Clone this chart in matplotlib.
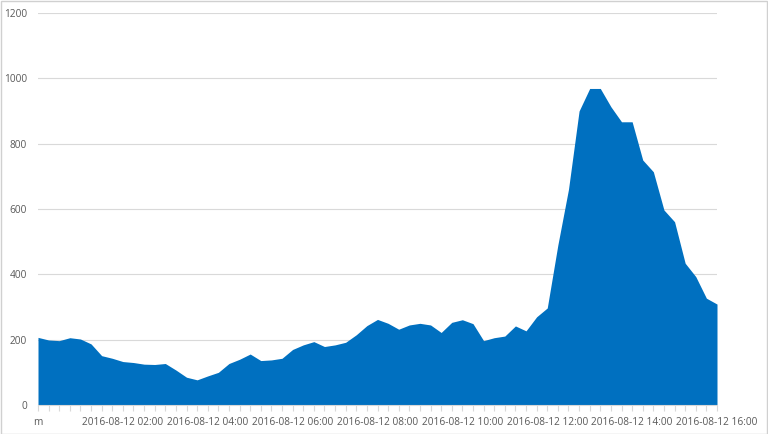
import matplotlib
matplotlib.use("Agg")
import matplotlib.pyplot as plt
import numpy as np
from matplotlib.patches import Rectangle

# 15-minute samples from 2016-08-12 00:00 to 16:00
hours = [i * 0.25 for i in range(65)]
values = [207, 199, 197, 206, 202, 187, 151, 143, 133, 130, 125, 124, 127, 107, 85, 77,
          89, 100, 127, 140, 156, 136, 138, 143, 170, 184, 194, 179, 184, 192, 215, 243,
          262, 250, 232, 245, 250, 245, 222, 253, 261, 249, 197, 206, 211, 242, 227, 270,
          297, 490, 660, 900, 969, 969, 913, 867, 867, 750, 714, 597, 561, 434, 393, 327,
          309]
label_hours = [0, 2, 4, 6, 8, 10, 12, 14, 16]
label_texts = ["m", "2016-08-12 02:00", "2016-08-12 04:00", "2016-08-12 06:00",
               "2016-08-12 08:00", "2016-08-12 10:00", "2016-08-12 12:00",
               "2016-08-12 14:00", "2016-08-12 16:00"]
y_ticks = [0, 200, 400, 600, 800, 1000, 1200]

plt.rcParams['font.family'] = ['Open Sans', 'DejaVu Sans']

fig = plt.figure(figsize=(7.68, 4.34), dpi=100)
ax = fig.add_axes([38/768, 29/434, (717-38)/768, (405-13)/434])

ax.fill_between(hours, values, 0, color='#0070C0', linewidth=0)
ax.set_xlim(0, 16)
ax.set_ylim(0, 1200)
ax.set_yticks(y_ticks)
ax.set_yticklabels([str(v) for v in y_ticks])
ax.yaxis.grid(True, color='#d9d9d9', linewidth=0.8)
ax.set_axisbelow(True)

ax.set_xticks(hours, minor=True)
ax.set_xticks(label_hours)
ax.set_xticklabels(label_texts)
ax.tick_params(axis='x', which='both', length=4, color='#d9d9d9', width=0.8,
               labelsize=7.3, labelcolor='#595959', pad=4.5)
ax.tick_params(axis='y', length=0, labelsize=7.3, labelcolor='#595959', pad=8)

for s in ['top', 'right', 'left']:
    ax.spines[s].set_visible(False)
ax.spines['bottom'].set_color('#d9d9d9')
ax.spines['bottom'].set_linewidth(0.8)

fig.patches.append(Rectangle((0.5/768, 0.5/434), 1 - 1.5/768, 1 - 1.5/434,
                             transform=fig.transFigure, fill=False,
                             edgecolor='#d0d0d0', linewidth=1))

fig.savefig('out.png', dpi=100)
